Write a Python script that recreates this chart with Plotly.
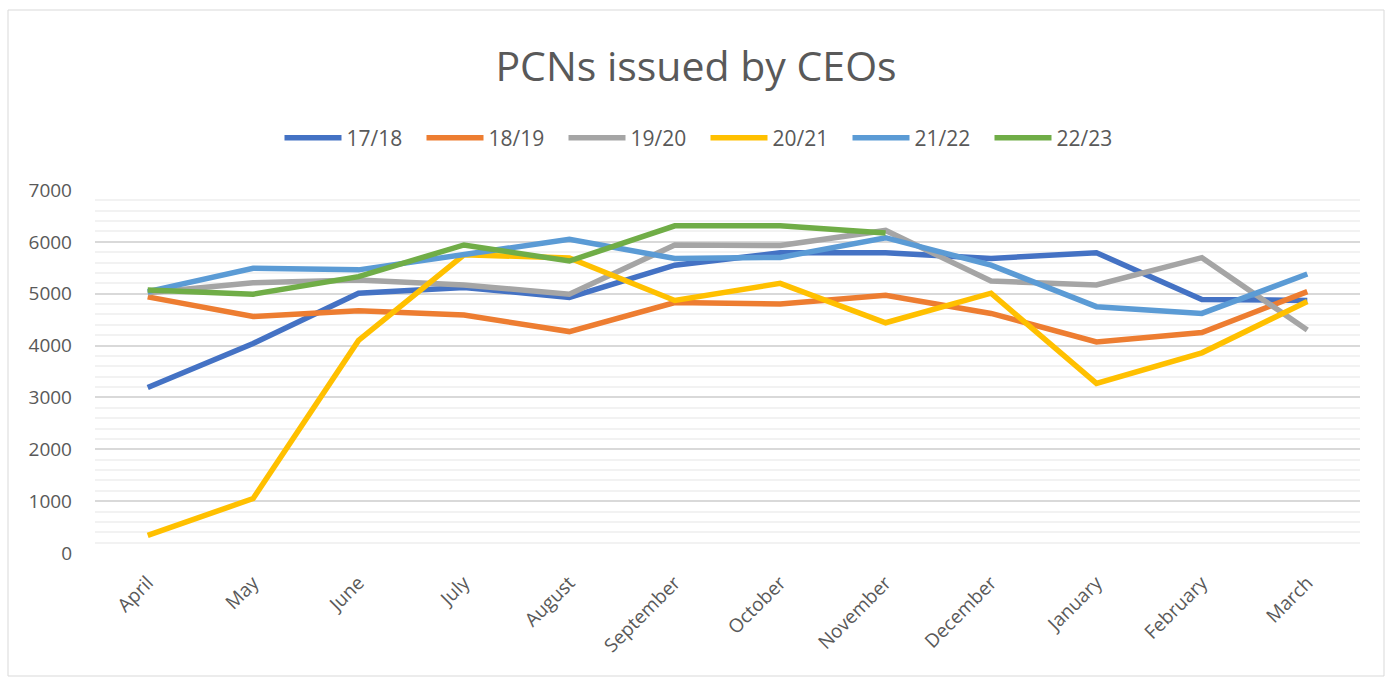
import plotly.graph_objects as go

months = ["April", "May", "June", "July", "August", "September", "October",
          "November", "December", "January", "February", "March"]

fy_1718 = [3190, 4040, 5010, 5120, 4930, 5550, 5790, 5790, 5680, 5790, 4890, 4870]
fy_1819 = [4940, 4560, 4670, 4590, 4270, 4830, 4800, 4970, 4620, 4070, 4250, 5040]
fy_1920 = [5020, 5210, 5265, 5170, 4990, 5940, 5930, 6220, 5245, 5170, 5695, 4300]
fy_2021 = [340, 1050, 4100, 5750, 5690, 4870, 5200, 4440, 5010, 3270, 3860, 4850]
fy_2122 = [5040, 5490, 5460, 5760, 6050, 5680, 5700, 6080, 5550, 4750, 4620, 5380]
fy_2223 = [5070, 4990, 5330, 5940, 5630, 6310, 6310, 6170, None, None, None, None]

series = [
    ("17/18", fy_1718, "#4472C4"),
    ("18/19", fy_1819, "#ED7D31"),
    ("19/20", fy_1920, "#A5A5A5"),
    ("20/21", fy_2021, "#FFC000"),
    ("21/22", fy_2122, "#5B9BD5"),
    ("22/23", fy_2223, "#70AD47"),
]

fig = go.Figure()
for name, vals, color in series:
    fig.add_trace(go.Scatter(
        x=months, y=vals, name=name, mode="lines",
        line=dict(color=color, width=5.5),
        connectgaps=False,
    ))

W, H = 1392, 677
ml, mr, mt, mb = 95, 32, 190, 124
pw, ph = W - ml - mr, H - mt - mb

fig.update_layout(
    width=W, height=H,
    margin=dict(l=ml, r=mr, t=mt, b=mb),
    paper_bgcolor="white", plot_bgcolor="white",
    font=dict(family="Open Sans", color="#595959"),
    title=dict(text="PCNs issued by CEOs", x=0.5, xanchor="center",
               y=1 - 67 / H, yanchor="middle",
               font=dict(size=41, color="#595959", family="Open Sans")),
    legend=dict(orientation="h", x=0.5 - 22 / pw, xanchor="center", y=1 + 52 / ph,
                yanchor="middle",
                font=dict(size=21, color="#595959"), itemwidth=57,
                entrywidth=70, entrywidthmode="pixels",
                bgcolor="rgba(0,0,0,0)"),
    showlegend=True,
    xaxis=dict(type="category", range=[-0.5, 11.5], tickangle=-45, showgrid=False,
               showline=False, ticks="", ticklabelstandoff=14,
               tickfont=dict(size=19, color="#595959"), zeroline=False),
    yaxis=dict(range=[0, 7000], dtick=1000, tick0=0, showgrid=True, gridcolor="#D9D9D9",
               gridwidth=1.5, zeroline=False, showline=False, ticks="",
               ticklabelstandoff=22,
               tickfont=dict(size=19, color="#595959"),
               minor=dict(dtick=200, showgrid=True, gridcolor="#F2F2F2", gridwidth=1.5)),
    shapes=[dict(type="rect", xref="paper", yref="paper",
                 x0=(8 - ml) / pw, x1=(1384 - ml) / pw,
                 y0=(H - mb - 676) / ph, y1=(H - mb - 10) / ph,
                 line=dict(color="#D9D9D9", width=1), fillcolor="rgba(0,0,0,0)", layer="below")],
)

fig.write_html("out.html", config={"displayModeBar": False},
               post_script="document.body.style.margin='0';")
